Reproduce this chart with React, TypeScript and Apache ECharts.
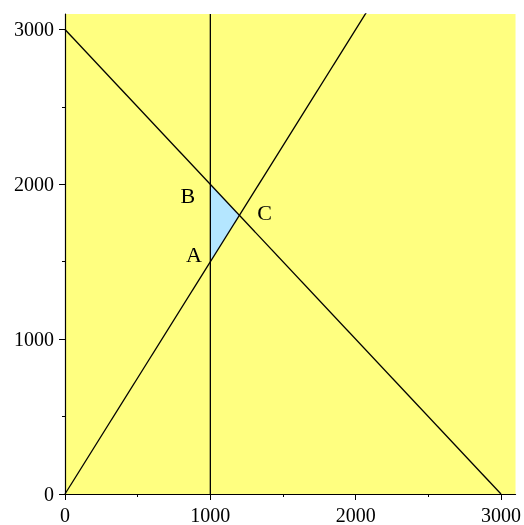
import React, { useEffect, useRef } from "react";
import * as echarts from "echarts";

// Constraint lines (endpoints in data units)
const lineSum = [[0, 3000], [3000, 0]]; // x + y = 3000
const lineRatio = [[0, 0], [2100, 3150]]; // y = 1.5 x
const lineVertical = [[1000, 0], [1000, 3100]]; // x = 1000

// Feasible triangle A, B, C
const triangleX = [1000, 1000, 1200];
const triangleY = [1500, 2000, 1800];

// Vertex labels and their placement
const vertexLabels = [
  { name: "B", x: 846, y: 1930 },
  { name: "C", x: 1374, y: 1815 },
  { name: "A", x: 887, y: 1545 },
];

const majorTicks = [0, 1000, 2000, 3000];
const minorTicks = [500, 1500, 2500];
const axisMax = 3100;

const FONT = "'Liberation Serif', 'DejaVu Serif', serif";

export default function App() {
  const ref = useRef<HTMLDivElement>(null);

  useEffect(() => {
    if (!ref.current) return;
    const chart = echarts.init(ref.current, undefined, { renderer: "svg" });

    const mainAxis = (labelMargin: number) => ({
      type: "value",
      min: 0,
      max: axisMax,
      splitLine: { show: false },
      axisLine: { show: true, onZero: false, lineStyle: { color: "#000", width: 1.2 } },
      axisTick: { show: true, length: 6, customValues: majorTicks, lineStyle: { color: "#000" } },
      axisLabel: {
        show: true,
        customValues: majorTicks,
        formatter: (v: number) => String(v),
        margin: labelMargin,
        color: "#000",
        fontFamily: FONT,
        fontSize: 20,
      },
    });
    const minorAxis = () => ({
      type: "value",
      min: 0,
      max: axisMax,
      splitLine: { show: false },
      axisLine: { show: false },
      axisTick: { show: true, length: 3, customValues: minorTicks, lineStyle: { color: "#000" } },
      axisLabel: { show: false },
    });

    chart.setOption({
      animation: false,
      grid: {
        left: 65,
        right: 7,
        top: 14,
        bottom: 28,
        show: true,
        backgroundColor: "#ffff80",
        borderWidth: 0,
      },
      xAxis: [
        { ...mainAxis(11), position: "bottom" },
        { ...minorAxis(), position: "bottom" },
      ],
      yAxis: [
        { ...mainAxis(11), position: "left" },
        { ...minorAxis(), position: "left" },
      ],
      series: [
        {
          type: "custom",
          xAxisIndex: 0,
          yAxisIndex: 0,
          data: [[0]],
          renderItem: (_params: any, api: any) => ({
            type: "polygon",
            shape: {
              points: triangleX.map((x, i) => api.coord([x, triangleY[i]])),
            },
            style: { fill: "#b4e6ff" },
          }),
          z: 1,
        },
        ...[lineSum, lineRatio, lineVertical].map((d) => ({
          type: "line",
          xAxisIndex: 0,
          yAxisIndex: 0,
          data: d,
          symbol: "none",
          clip: true,
          lineStyle: { color: "#000", width: 1.3 },
          z: 2,
        })),
        {
          type: "scatter",
          xAxisIndex: 0,
          yAxisIndex: 0,
          symbolSize: 0,
          itemStyle: { opacity: 1 },
          data: vertexLabels.map((v) => ({ value: [v.x, v.y], name: v.name })),
          label: {
            show: true,
            position: "inside",
            formatter: (p: any) => p.name,
            color: "#000",
            fontFamily: FONT,
            fontSize: 22,
          },
          z: 3,
        },
      ],
    });

    return () => chart.dispose();
  }, []);

  return (
    <div
      ref={ref}
      style={{ position: "fixed", left: 0, top: 0, width: 524, height: 525 }}
    />
  );
}
